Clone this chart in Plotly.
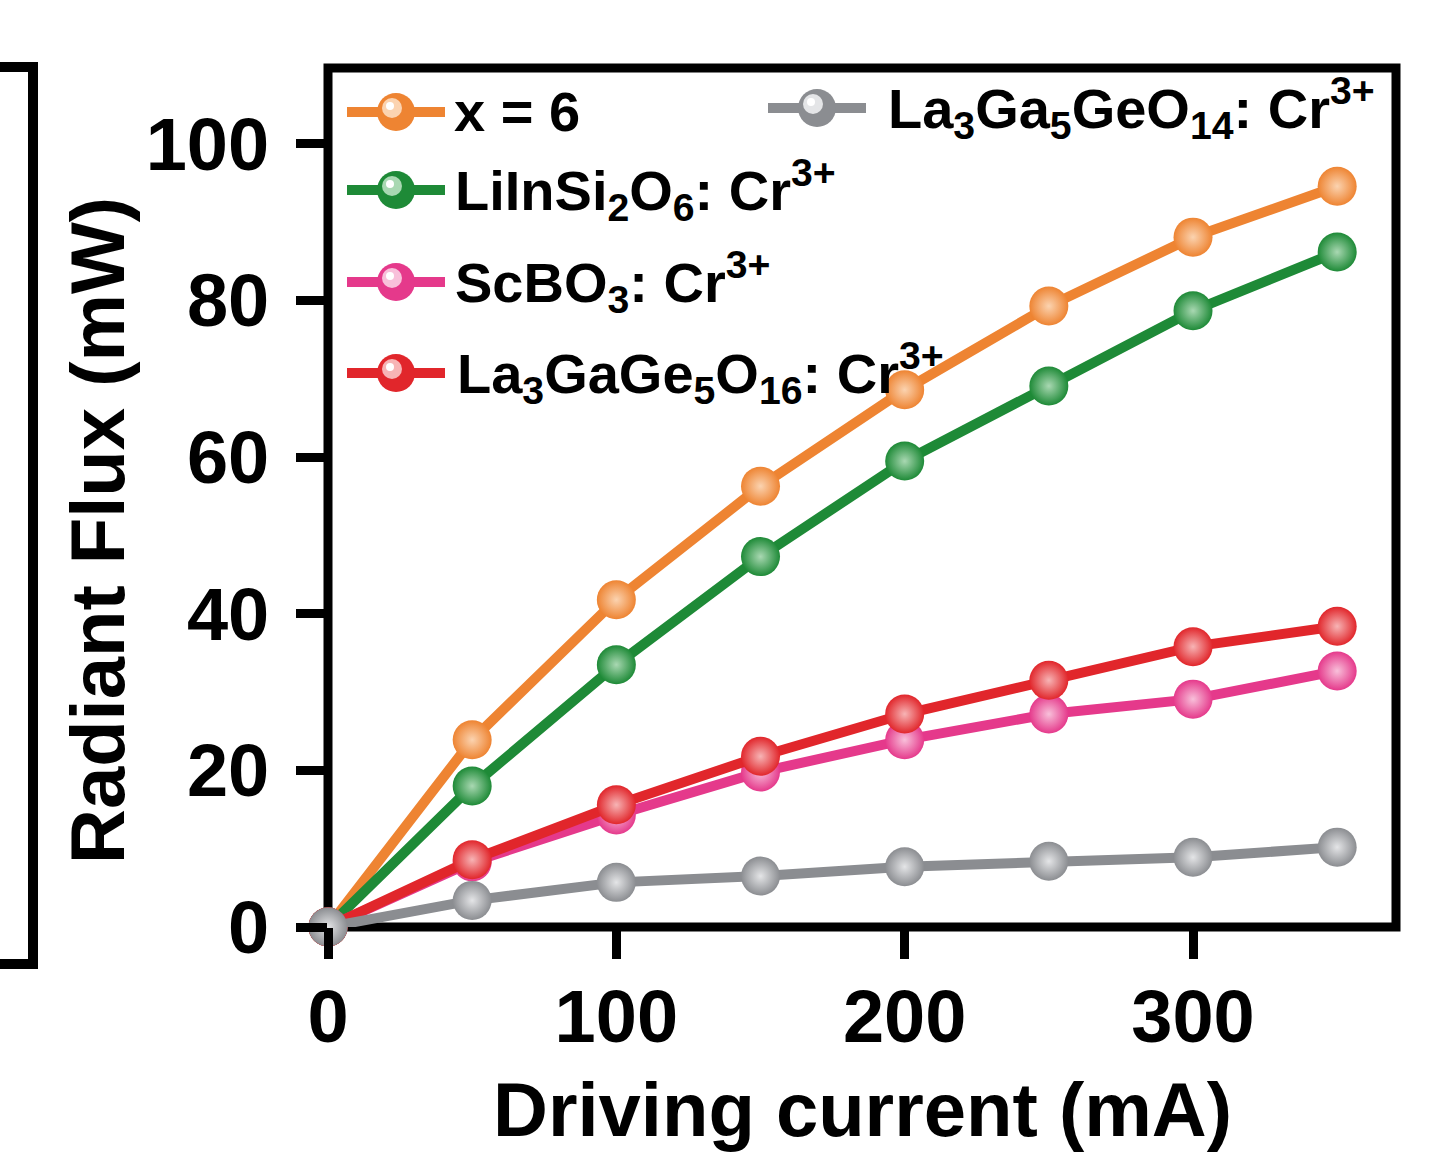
import plotly.graph_objects as go

# Driving current (mA)
current = [0, 50, 100, 150, 200, 250, 300, 350]

# Radiant flux (mW) for each phosphor
flux_x6 = [0, 23.9, 41.8, 56.3, 68.6, 79.3, 88.1, 94.6]
flux_liinsi = [0, 18.0, 33.5, 47.3, 59.5, 69.1, 78.7, 86.2]
flux_scbo = [0, 8.3, 14.3, 19.8, 23.9, 27.2, 29.1, 32.7]
flux_lagage = [0, 8.6, 15.6, 21.8, 27.2, 31.5, 35.8, 38.4]
flux_laga5 = [0, 3.4, 5.7, 6.5, 7.7, 8.4, 8.9, 10.2]

series_names = [
    "x = 6",
    "LiInSi<sub>2</sub>O<sub>6</sub>: Cr<sup>3+</sup>",
    "ScBO<sub>3</sub>: Cr<sup>3+</sup>",
    "La<sub>3</sub>GaGe<sub>5</sub>O<sub>16</sub>: Cr<sup>3+</sup>",
    "La<sub>3</sub>Ga<sub>5</sub>GeO<sub>14</sub>: Cr<sup>3+</sup>",
]
series_values = [flux_x6, flux_liinsi, flux_scbo, flux_lagage, flux_laga5]
series_colors = ["#EE8432", "#1E8A37", "#E5398B", "#E1262B", "#8B8D91"]
series_glow = ["#FBD3B0", "#A9D8B2", "#F8C0DA", "#F7B4B5", "#E4E5E7"]

x_ticks = [0, 100, 200, 300]
y_ticks = [0, 20, 40, 60, 80, 100]

W, H = 1435, 1155
L, R, T, B = 328, 1396, 68, 927  # plot area in pixels
FONT = "Liberation Sans, Arial, sans-serif"


def px(xp, yp):
    """Pixel position -> paper coordinates."""
    return (xp - L) / (R - L), (B - yp) / (B - T)


fig = go.Figure()
for name, vals, col, glow in zip(series_names, series_values, series_colors, series_glow):
    fig.add_trace(go.Scatter(
        x=current, y=vals, name=name, mode="lines+markers",
        line=dict(color=col, width=10),
        marker=dict(size=39, color=col, line=dict(width=0),
                    gradient=dict(type="radial", color=glow)),
        cliponaxis=False, showlegend=False,
    ))

shapes = []
# plot frame
shapes.append(dict(type="rect", xref="x domain", yref="y domain", x0=0, x1=1, y0=0, y1=1,
                   line=dict(color="black", width=9), layer="below"))
# bracket of the neighbouring panel
bx0, by0 = px(0, 67)
bx1, by1 = px(33, 964)
shapes.append(dict(type="path", xref="paper", yref="paper",
                   path=f"M {bx0},{by0} L {bx1},{by0} L {bx1},{by1} L {bx0},{by1}",
                   line=dict(color="black", width=10)))

annotations = []

# legend entries: (swatch centre x, row centre y, text left x)
legend_rows = [
    (396, 112, 452),
    (396, 190, 453),
    (396, 282, 453),
    (396, 373, 455),
    (817, 108, 886),
]
for (cx, cy, tx), name, col, glow in zip(legend_rows, series_names, series_colors, series_glow):
    x0, y0 = px(cx - 49, cy)
    x1, _ = px(cx + 49, cy)
    shapes.append(dict(type="line", xref="paper", yref="paper", x0=x0, x1=x1, y0=y0, y1=y0,
                       line=dict(color=col, width=10), layer="above"))
    for r, dx, dy, c in [(19, 0, 0, col), (10, -4, -4, glow), (4, -6, -6, "white")]:
        ax0, ay0 = px(cx + dx - r, cy + dy + r)
        ax1, ay1 = px(cx + dx + r, cy + dy - r)
        shapes.append(dict(type="circle", xref="paper", yref="paper",
                           x0=ax0, x1=ax1, y0=ay0, y1=ay1,
                           fillcolor=c, line=dict(width=0), layer="above"))
    tx_p, ty_p = px(tx, cy)
    annotations.append(dict(text=f"<b>{name}</b>", xref="paper", yref="paper",
                            x=tx_p, y=ty_p, xanchor="left", yanchor="middle",
                            showarrow=False, font=dict(family=FONT, size=56, color="black")))

# axis titles
tx_p, ty_p = px(862, 1109)
annotations.append(dict(text="<b>Driving current (mA)</b>", xref="paper", yref="paper",
                        x=tx_p, y=ty_p, xanchor="center", yanchor="middle", showarrow=False,
                        font=dict(family=FONT, size=76, color="black")))
tx_p, ty_p = px(97, 531)
annotations.append(dict(text="<b>Radiant Flux (mW)</b>", xref="paper", yref="paper",
                        x=tx_p, y=ty_p, xanchor="center", yanchor="middle", showarrow=False,
                        textangle=-90, font=dict(family=FONT, size=76, color="black")))

axis_common = dict(showline=False, showgrid=False, zeroline=False, ticks="outside",
                   ticklen=31, tickwidth=9, tickcolor="black",
                   tickfont=dict(family=FONT, size=74, color="black", weight="bold"))

fig.update_layout(
    width=W, height=H,
    margin=dict(l=L, r=W - R, t=T, b=H - B, pad=0),
    paper_bgcolor="white", plot_bgcolor="white",
    showlegend=False,
    xaxis=dict(range=[0, 370.4], tickvals=x_ticks, ticktext=[str(v) for v in x_ticks],
               ticklabelstandoff=-6, **axis_common),
    yaxis=dict(range=[0, 109.7], tickvals=y_ticks, ticktext=[str(v) for v in y_ticks],
               ticklabelstandoff=12, **axis_common),
    shapes=shapes, annotations=annotations,
)

fig.write_html("out.html")
